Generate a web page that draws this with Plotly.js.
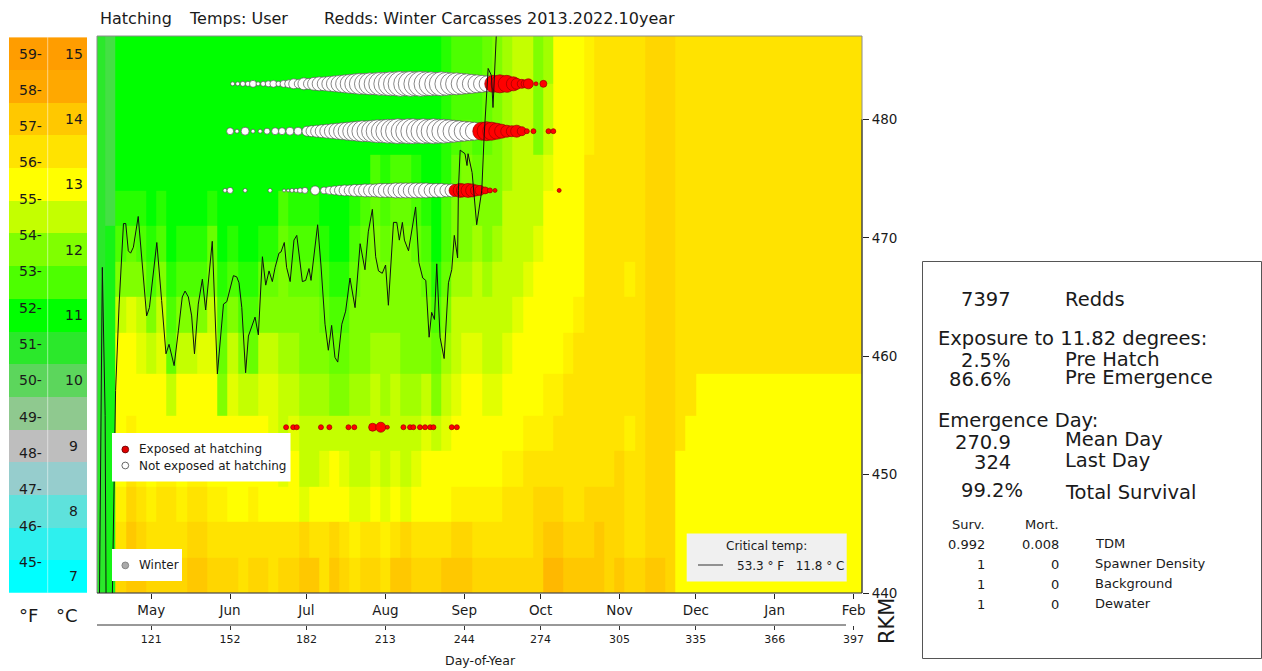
<!DOCTYPE html>
<html>
<head>
<meta charset="utf-8">
<script src="https://cdn.plot.ly/plotly-3.0.1.min.js"></script>
<style>html,body{margin:0;padding:0;background:#fff;}#chart{width:1262px;height:671px;}</style>
</head>
<body>
<div id="chart"></div>
<script>
const W = 1262, H = 671;
const FONT = 'DejaVu Sans, Verdana, sans-serif';
const INK = '#1a1a1a';

// ---------- temperature key (°C bands) ----------
const bandTempsC = [7, 7.5, 8, 8.5, 9, 9.5, 10, 10.5, 11, 11.5, 12, 12.5, 13, 13.5, 14, 14.5, 15];
const bandColors = ['#00ffff', '#2ef0ee', '#5ee2dc', '#96cdcd', '#bebebe', '#8fc98f', '#5cd65c', '#2be82b',
  '#00ff00', '#4dff00', '#80ff00', '#c4ff00', '#ffff00', '#ffe300', '#ffc800', '#ffa800', '#ff9d00'];
const keyF = [59, 58, 57, 56, 55, 54, 53, 52, 51, 50, 49, 48, 47, 46, 45];
const keyC = [15, 14, 13, 12, 11, 10, 9, 8, 7];

// ---------- axes ----------
const monthTickDays = [121, 152, 182, 213, 244, 274, 305, 335, 366, 397];
const monthLabels = ['May', 'Jun', 'Jul', 'Aug', 'Sep', 'Oct', 'Nov', 'Dec', 'Jan', 'Feb'];
const doyTicks = [121, 152, 182, 213, 244, 274, 305, 335, 366, 397];
const rkmTicks = [440, 450, 460, 470, 480];

// ---------- river temperature field (day x RKM) ----------
const heatRkm = [441.5, 444.5, 447.5, 450.5, 453.5, 456.5, 460.5, 463.5, 466.5, 469.5, 472.5, 475.5, 478.5, 481.5, 484.5, 487.5];
const heatDay0 = 101, heatDayStep = 4;
const codeLetters = 'abcdefghijklmnopqrstuvwxy';
const codeTemps = [9, 9.25, 9.5, 9.75, 10, 10.25, 10.5, 10.75, 11, 11.25, 11.5, 11.75, 12, 12.25, 12.5, 12.75,
  13, 13.25, 13.5, 13.75, 14, 14.25, 14.5, 14.75, 15];
// one string per 4-day column, bottom RKM -> top RKM
const dayColumns = [
  'gggggggggggggggg', 'hhhhhhhhhhffffff', 'tsrqqqqomkjiiiii', 'uutsrqqpmljiiiii', 'utsrqqpomkjiiiii',
  'tsrqqqomkjiiiiii', 'tssrqqpomkjiiiii', 'tssrqolkjiiiiiii', 'tsrqqqomkjiiiiii', 'utsrqqomkjiiiiii',
  'utsrqqpmkjiiiiii', 'tsrqqqpomljiiiii', 'tsrqqmlkjiiiiiii', 'tsqqqpomkjiiiiii', 'ssqqqomkjiiiiiii',
  'tsrqqolkjiiiiiii', 'tsqqqpomljiiiiii', 'ssqqppomljiiiiii', 'tsqpoonmmlkiiiii', 'tsqqponmlkjiiiii',
  'utpoonmmlkjiiiii', 'usqoonmmlkjiiiii', 'ssqponmlkjiiiiii', 'utqqomlkjiiiiiii', 'tsqpomlkjiiiiiii',
  'srpoonmmlkjiiiii', 'tspoonmmmlkiiiii', 'tsqpoonmmmlkiiii', 'srpoonnmmlkjiiii', 'usqpoonmmmlkiiii',
  'utpoonmmmmlkiiii', 'tsqponmmmlkjiiii', 'tsqqpommlkjiiiii', 'tsqqomlkjiiiiiii', 'usqqponmlkkjjjjj',
  'utrqqpoonmmlkkkk', 'utrqqqponmmmlkkk', 'tsrqqqpoonmlkkkk', 'tsrqqpoonmmmllll', 'tsrqqpooonmmmmmm',
  'tssrqqpoooonnnnn', 'tssrqqqpoooooooo', 'tsssrqqqpooooooo', 'tttsrqqqqpoommmm', 'vutsrrqqqqqpoonn',
  'vutssrqqqqqqqqqq', 'utssssrqqqqqqqqq', 'utsssssrqqqqqqqq', 'uttsssssssssrrrr', 'uutsssssssssssss',
  'tttsssssssssssss', 'utttssssssssssss', 'tsssrsssrsssssss', 'tsssssssssssssss', 'uttttttttttttttt',
  'uttttttttttttttt', 'tttttttttttttttt', 'qqqqssssssssssss', 'qqqqqsssssssssss', 'qqqqqqssssssssss',
  'qqqqqqssssssssss', 'qqqqqqssssssssss', 'qqqqqqssssssssss', 'qqqqqqssssssssss', 'qqqqqqssssssssss',
  'qqqqqqssssssssss', 'qqqqqqssssssssss', 'qqqqqqssssssssss', 'qqqqqqssssssssss', 'qqqqqqssssssssss',
  'qqqqqqssssssssss', 'qqqqqqssssssssss', 'qqqqqqssssssssss', 'qqqqqqssssssssss', 'qqqqqqssssssssss',
  'qqqqqqssssssssss'
];

// ---------- critical temperature (11.8 °C) line ----------
const critDays = [100.6, 101.8, 102.9, 103.3, 105.6, 107.0, 108.4, 110.1, 111.0, 112.0, 112.9, 114.0, 115.9, 117.3,
  119.2, 120.3, 123.2, 125.1, 126.8, 128.0, 130.0, 131.7, 133.2, 134.3, 135.6, 136.9, 138.0, 139.5, 141.1, 142.4,
  143.5, 145.0, 147.0, 149.4, 150.7, 153.3, 154.6, 155.5, 156.6, 158.1, 159.2, 161.8, 163.1, 164.7, 166.0, 167.3,
  168.6, 169.7, 171.2, 172.0, 173.3, 174.2, 175.6, 177.1, 178.2, 179.1, 180.4, 181.7, 183.0, 183.8, 185.4, 186.4,
  187.7, 189.3, 190.6, 191.9, 193.2, 194.3, 195.9, 197.4, 199.1, 201.1, 203.1, 205.0, 206.3, 207.9, 209.2, 210.3,
  211.8, 213.1, 214.2, 216.2, 217.5, 218.5, 219.7, 220.5, 222.1, 223.4, 224.9, 226.2, 227.7, 228.9, 230.2, 231.2,
  232.3, 233.2, 234.5, 236.1, 237.8, 239.1, 240.1, 241.4, 241.7, 242.4, 244.3, 245.1, 245.5, 247.1, 248.3, 248.9,
  250.9, 251.8, 253.4, 254.7, 255.3, 256.5, 257.0];
const critRkm = [438, 467.5, 455, 438, 438, 457.1, 464.4, 471.2, 471.2, 468.9, 468.7, 469.2, 471.8, 468.4,
  463.4, 464.1, 469.6, 464.7, 460.2, 461.0, 459.2, 462.2, 465.0, 465.5, 465.0, 463.4, 460.2, 464.4, 466.5, 463.9,
  466.5, 469.7, 458.5, 464.4, 464.6, 466.8, 466.7, 466.2, 464.1, 458.6, 461.7, 463.3, 461.8, 468.4, 466.0, 467.2,
  466.3, 467.5, 468.7, 468.8, 469.6, 467.5, 466.3, 469.8, 470.2, 468.4, 466.3, 466.4, 467.4, 466.4, 469.5, 471.1,
  467.7, 462.7, 460.5, 462.6, 459.9, 459.5, 462.7, 463.8, 466.6, 464.1, 469.5, 467.3, 470.5, 472.4, 468.4, 467.2,
  467.0, 467.7, 464.3, 471.3, 471.3, 469.8, 471.3, 469.8, 468.9, 470.6, 472.6, 467.9, 466.6, 466.4, 461.6, 463.7,
  463.1, 467.8, 461.6, 459.8, 466.2, 467.3, 470.2, 468.3, 474.0, 477.4, 477.1, 476.1, 477.1, 475.5, 472.8, 471.1,
  474.0, 478.5, 484.3, 483.7, 481.0, 487.0, 489];

// ---------- redds by day (bubble = redd count) ----------
const row1Rkm = 483.0, row2Rkm = 479.0, row3Rkm = 474.0, row4Rkm = 454.0;
const row1WhiteDays = [153, 155, 157, 159, 161, 163, 165, 167, 169, 171, 173, 175, 177, 179, 181, 183, 185, 187, 189,
  191, 193, 195, 197, 199, 201, 203, 205, 207, 209, 211, 213, 215, 217, 219, 221, 223, 225, 227, 229, 231, 233, 235,
  237, 239, 241, 243, 245, 247, 249, 251, 253];
const row1WhiteSizes = [4, 4, 5, 5, 7, 4, 5, 6, 7, 5, 7, 8, 10, 9, 12, 11, 13, 14, 14, 15, 16, 17, 18, 19, 20, 21, 21,
  22, 22, 23, 23, 24, 24, 25, 24, 25, 24, 25, 24, 24, 23, 24, 23, 22, 22, 21, 20, 19, 18, 17, 16];
const row1RedDays = [255.4, 258.0, 260.7, 263.3, 264.6, 266.6, 267.9, 269.2, 272.2, 275.1];
const row1RedSizes = [17, 18, 17, 14, 11, 9, 8, 10, 4, 7];
const row2WhiteDays = [152.0, 154.7, 157.9, 161.0, 163.8, 166.5, 169.7, 172.4, 175.5, 178.7, 182.2, 184, 186, 188,
  190, 192, 194, 196, 198, 200, 202, 204, 206, 208, 210, 212, 214, 216, 218, 220, 222, 224, 226, 228, 230, 232, 234,
  236, 238, 240, 242, 244, 246, 248];
const row2WhiteSizes = [7, 4, 8, 4, 4, 6, 7, 7, 8, 8, 10, 11, 12, 13, 14, 15, 16, 17, 18, 19, 20, 21, 21, 22, 23, 23,
  24, 24, 25, 24, 25, 25, 24, 25, 24, 25, 24, 24, 23, 22, 21, 20, 19, 18];
const row2RedDays = [250.9, 252.8, 254.8, 256.8, 258.7, 260.7, 262.7, 264.6, 266.6, 268.6, 271.2, 277.1, 279.0];
const row2RedSizes = [18, 19, 18, 16, 14, 12, 11, 12, 9, 5, 5, 5, 5];
const row3WhiteDays = [150.0, 152.0, 157.9, 167.7, 173.2, 174.8, 176.3, 177.9, 179.5, 181.4, 185.4, 188.9, 191, 193,
  195, 197, 199, 201, 203, 205, 207, 209, 211, 213, 215, 217, 219, 221, 223, 225, 227, 229, 231, 233, 235, 237, 239];
const row3WhiteSizes = [4, 6, 4, 4, 3, 3, 4, 4, 5, 6, 9, 7, 8, 9, 10, 11, 11, 12, 12, 13, 13, 13, 14, 14, 14, 15, 15,
  15, 15, 15, 15, 15, 14, 14, 14, 13, 13];
const row3RedDays = [240.4, 242.4, 243.5, 245.5, 247.1, 248.6, 250.2, 252.2, 254.1, 256.1, 281.3];
const row3RedSizes = [12, 14, 13, 14, 13, 11, 10, 7, 5, 4, 4];
const row4RedDays = [174.0, 176.8, 178.2, 187.7, 191.0, 198.5, 200.8, 208.0, 211.2, 213.8, 220.1, 222.7, 224.0,
  226.6, 228.6, 230.6, 231.9, 239.1, 241.1];
const row4RedSizes = [5, 5, 5, 5, 5, 5, 5, 8, 10, 4, 5, 5, 5, 5, 5, 5, 5, 5, 5];

// ---------- river sites ----------
const siteNames = ['Keswick', 'ACID Dam', 'Hwy 44', 'CCR', 'Powerlines', 'Airport Rd.', 'Bulls Ferry'];
const siteRkm = [485.9, 480.5, 477.3, 469.95, 463.4, 457.6, 444.7];

// ---------- summary panel ----------
const factorNames = ['TDM', 'Spawner Density', 'Background', 'Dewater'];
const factorSurv = ['0.992', '1', '1', '1'];
const factorMort = ['0.008', '0', '0', '0'];

// ================= build =================
const px = x => x / W;
const py = y => 1 - y / H;
const colorscale = bandTempsC.map((t, i) => [(t - 7) / 8, bandColors[i]]);
const heatDays = dayColumns.map((_, i) => heatDay0 + heatDayStep * i);
const zMatrix = heatRkm.map((_, r) => dayColumns.map(col => {
  const ch = col.charAt(Math.min(r, col.length - 1));
  return codeTemps[codeLetters.indexOf(ch)];
}));

const traces = [];
traces.push({type: 'heatmap', x: heatDays, y: heatRkm, z: zMatrix, colorscale: colorscale, zmin: 7, zmax: 15,
  zsmooth: false, showscale: false, hoverinfo: 'skip', xaxis: 'x', yaxis: 'y'});

function bubbles(days, sizes, rkm, fill, edge) {
  return {type: 'scatter', mode: 'markers', x: days, y: days.map(() => rkm), hoverinfo: 'skip', cliponaxis: true,
    marker: {size: sizes, color: fill, line: {color: edge, width: 0.7}, opacity: 1}, xaxis: 'x', yaxis: 'y'};
}
traces.push(bubbles(row1WhiteDays, row1WhiteSizes, row1Rkm, '#ffffff', '#555555'));
traces.push(bubbles(row2WhiteDays, row2WhiteSizes, row2Rkm, '#ffffff', '#555555'));
traces.push(bubbles(row3WhiteDays, row3WhiteSizes, row3Rkm, '#ffffff', '#555555'));
traces.push(bubbles(row1RedDays, row1RedSizes, row1Rkm, '#ff0000', '#9a0000'));
traces.push(bubbles(row2RedDays, row2RedSizes, row2Rkm, '#ff0000', '#9a0000'));
traces.push(bubbles(row3RedDays, row3RedSizes, row3Rkm, '#ff0000', '#9a0000'));
traces.push(bubbles(row4RedDays, row4RedSizes, row4Rkm, '#ff0000', '#9a0000'));

traces.push({type: 'scatter', mode: 'lines', x: critDays, y: critRkm, line: {color: '#111111', width: 1},
  hoverinfo: 'skip', xaxis: 'x', yaxis: 'y'});

traces.push({type: 'scatter', mode: 'text', x: siteRkm.map(() => 401.2), y: siteRkm, text: siteNames,
  textposition: 'middle left', textfont: {family: FONT, size: 12.5, color: INK}, cliponaxis: false,
  hoverinfo: 'skip', xaxis: 'x', yaxis: 'y'});

// dummy trace so the day-of-year axis is drawn
traces.push({type: 'scatter', mode: 'markers', x: [doyTicks[0]], y: [445], marker: {opacity: 0}, hoverinfo: 'skip',
  xaxis: 'x2', yaxis: 'y'});

// temperature key
traces.push({type: 'heatmap', x: [0, 1], y: bandTempsC, z: bandTempsC.map(t => [t, t]), colorscale: colorscale,
  zmin: 7, zmax: 15, showscale: false, hoverinfo: 'skip', xaxis: 'x3', yaxis: 'y3'});

// ---------- shapes ----------
function seg(x0, y0, x1, y1, color, width, extra) {
  return Object.assign({type: 'line', xref: 'paper', yref: 'paper', x0: px(x0), y0: py(y0), x1: px(x1), y1: py(y1),
    line: {color: color, width: width || 1}, layer: 'above'}, extra || {});
}
function box(x0, y0, x1, y1, fill, lineColor) {
  return {type: 'rect', xref: 'paper', yref: 'paper', x0: px(x0), y0: py(y1), x1: px(x1), y1: py(y0),
    fillcolor: fill, line: {color: lineColor || 'rgba(0,0,0,0)', width: lineColor ? 1 : 0}, layer: 'above'};
}
function dot(cx, cy, r, fill, edge) {
  return {type: 'circle', xref: 'paper', yref: 'paper', x0: px(cx - r), x1: px(cx + r), y0: py(cy + r), y1: py(cy - r),
    fillcolor: fill, line: {color: edge, width: 0.8}, layer: 'above'};
}
const shapes = [
  seg(97, 36, 862, 36, '#8c8c8c', 1),
  seg(97, 36, 97, 593, '#8c8c8c', 1),
  seg(862, 36, 862, 593, '#8c8c8c', 1),
  seg(97, 593, 862, 593, '#222222', 1),
  {type: 'line', xref: 'paper', yref: 'y', x0: px(862), x1: px(862), y0: 440, y1: 480,
    line: {color: '#222222', width: 1}, layer: 'above'},
  seg(97, 625, 846, 625, '#333333', 1),
  seg(47.7, 37.2, 47.7, 592.7, 'rgba(255,255,255,0.5)', 1),
  box(112, 433, 290.5, 481.5, '#ffffff'),
  box(112, 549, 182, 581, '#ffffff'),
  box(686.7, 533.4, 846.7, 581.4, '#f0f0f0'),
  seg(698, 565, 723, 565, '#333333', 1),
  dot(125.3, 449.5, 3.4, '#e00000', '#600000'),
  dot(125.3, 465.5, 3.4, '#ffffff', '#444444'),
  dot(125.3, 565.4, 3.4, '#aaaaaa', '#777777'),
  box(922.5, 261.5, 1261.5, 658.5, 'rgba(0,0,0,0)', '#555555')
];

// ---------- annotations ----------
function label(x, y, text, size, xanchor, extra) {
  return Object.assign({xref: 'paper', yref: 'paper', x: px(x), y: py(y), text: text, showarrow: false,
    xanchor: xanchor || 'left', yanchor: 'middle', font: {family: FONT, size: size, color: INK}}, extra || {});
}
const annotations = [
  label(98, 18.5, 'Hatching', 16),
  label(186.7, 18.5, 'Temps: User', 16),
  label(321.7, 18.5, 'Redds: Winter Carcasses 2013.2022.10year', 16),
  label(480, 660, 'Day-of-Year', 12.5, 'center'),
  label(887, 621, 'RKM', 21, 'center', {textangle: -90}),
  label(28, 615.5, '°F', 18, 'center'),
  label(66.7, 615.5, '°C', 18, 'center'),
  label(137, 449.5, 'Exposed at hatching', 12),
  label(137, 465.5, 'Not exposed at hatching', 12),
  label(137, 565.4, 'Winter', 12),
  label(766.7, 546, 'Critical temp:', 12, 'center'),
  label(735, 565.5, '53.3\u00a0°\u00a0F\u00a0\u00a0\u00a011.8\u00a0°\u00a0C', 12),
  // summary panel
  label(1013, 299, '7397', 19.5, 'right'),
  label(1063, 299, 'Redds', 19.5),
  label(936, 338, 'Exposure to 11.82 degrees:', 19.5),
  label(1013, 360, '2.5%', 19.5, 'right'),
  label(1063, 359, 'Pre Hatch', 19.5),
  label(1013, 379, '86.6%', 19.5, 'right'),
  label(1063, 378, 'Pre Emergence', 19.5),
  label(936, 420, 'Emergence Day:', 19.5),
  label(1013, 442, '270.9', 19.5, 'right'),
  label(1063, 440, 'Mean Day', 19.5),
  label(1013, 462, '324', 19.5, 'right'),
  label(1063, 460, 'Last Day', 19.5),
  label(1025, 490, '99.2%', 19.5, 'right'),
  label(1063, 492, 'Total Survival', 19.5),
  label(987, 524, 'Surv.', 13, 'right'),
  label(1061, 524, 'Mort.', 13, 'right')
];
const factorY = [544, 564, 584, 604];
factorNames.forEach((n, i) => {
  annotations.push(label(987, factorY[i], factorSurv[i], 13, 'right'));
  annotations.push(label(1061, factorY[i], factorMort[i], 13, 'right'));
  annotations.push(label(1093, factorY[i] - 1, n, 13));
});
keyF.forEach(f => annotations.push({xref: 'paper', yref: 'y3', x: px(44), y: (f - 32) / 1.8, text: f + '-',
  showarrow: false, xanchor: 'right', yanchor: 'middle', font: {family: FONT, size: 14, color: INK}}));
keyC.forEach(c => annotations.push({xref: 'paper', yref: 'y3', x: px(73.5), y: c, text: String(c),
  showarrow: false, xanchor: 'center', yanchor: 'middle', font: {family: FONT, size: 14, color: INK}}));

const layout = {
  width: W, height: H, margin: {l: 0, r: 0, t: 0, b: 0}, paper_bgcolor: '#ffffff', plot_bgcolor: '#ffffff',
  showlegend: false, font: {family: FONT, color: INK},
  xaxis: {domain: [px(97), px(862)], range: [99.7, 400.3], anchor: 'y', tickvals: monthTickDays, ticktext: monthLabels,
    ticks: 'outside', ticklen: 5, tickcolor: '#222', showgrid: false, zeroline: false, showline: false,
    tickfont: {family: FONT, size: 13.5, color: INK}, fixedrange: true},
  xaxis2: {overlaying: 'x', anchor: 'free', position: (H - 625) / H, side: 'bottom', range: [99.7, 400.3],
    tickvals: doyTicks, ticktext: doyTicks.map(String), ticks: 'outside', ticklen: 4, tickcolor: '#333',
    showgrid: false, zeroline: false, showline: false, tickfont: {family: FONT, size: 11, color: INK}},
  yaxis: {domain: [py(593), py(36)], range: [440, 487.04], anchor: 'x', side: 'right', tickvals: rkmTicks,
    ticks: 'outside', ticklen: 6, tickcolor: '#222', showgrid: false, zeroline: false, showline: false,
    tickfont: {family: FONT, size: 13.5, color: INK}, fixedrange: true},
  xaxis3: {domain: [px(9), px(87.3)], range: [-0.5, 1.5], visible: false, anchor: 'y3'},
  yaxis3: {domain: [py(592.7), py(37.2)], range: [6.75, 15.25], visible: false, anchor: 'x3'},
  shapes: shapes,
  annotations: annotations
};

Plotly.newPlot('chart', traces, layout, {staticPlot: true, displayModeBar: false});
</script>
</body>
</html>
